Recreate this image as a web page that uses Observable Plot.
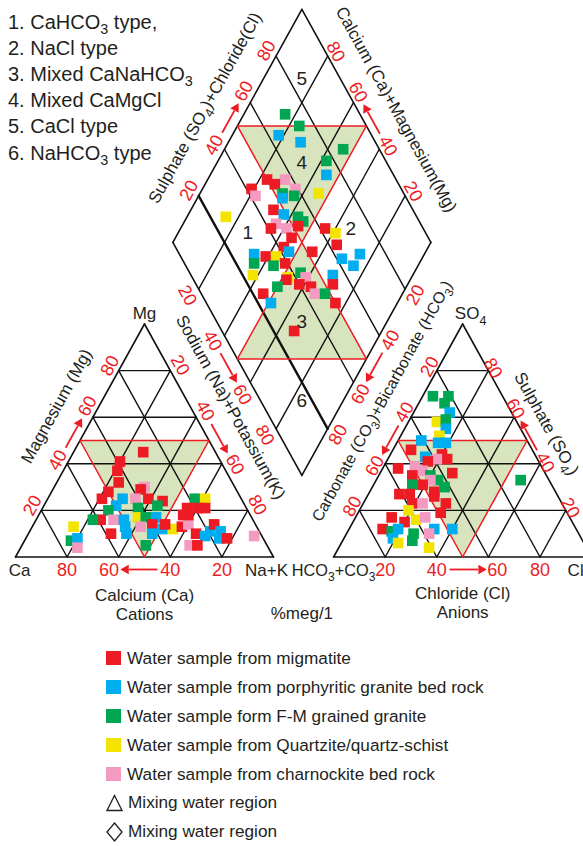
<!DOCTYPE html>
<html>
<head>
<meta charset="utf-8">
<script src="https://cdn.jsdelivr.net/npm/d3@7"></script>
<script src="https://cdn.jsdelivr.net/npm/@observablehq/plot@0.6"></script>
<style>
  body { margin: 0; background: #fff; font-family: "Liberation Sans", Arial, sans-serif; color: #231f20; }
  #wrap { position: relative; width: 583px; height: 846px; overflow: hidden; background: #fff; }
  #chart { position: absolute; left: 0; top: 0; }
  #types { position: absolute; left: 8px; top: 8.6px; font-size: 20px; line-height: 26.2px; white-space: nowrap; }
  #legend { position: absolute; left: 106px; top: 644px; font-size: 17.2px; white-space: nowrap; }
  #legend .row { height: 28.9px; display: flex; align-items: center; }
  #legend .sw { display: inline-block; width: 15px; height: 14px; margin-right: 6px; }
  #legend svg { margin-right: 5px; }
  sub { font-size: 0.72em; vertical-align: -0.32em; line-height: 0; }
</style>
</head>
<body>
<div id="wrap">
  <div id="chart"></div>
  <div id="types"></div>
  <div id="legend"></div>
</div>
<script>
// ---------------------------------------------------------------------------
// Data
// ---------------------------------------------------------------------------
const groupKeys = ["R", "B", "G", "Y", "P"];
const groupColors = ["#ed1c24", "#00aeef", "#00a651", "#f2e400", "#f49ac1"];
const groupLabels = [
  "Water sample from migmatite",
  "Water sample from porphyritic granite bed rock",
  "Water sample form F-M grained granite",
  "Water sample from Quartzite/quartz-schist",
  "Water sample from charnockite bed rock"
];
const regionLegend = ["Mixing water region", "Mixing water region"];

const typeNames = [
  "1. CaHCO₃ type,",
  "2. NaCl type",
  "3. Mixed CaNaHCO₃",
  "4. Mixed CaMgCl",
  "5. CaCl type",
  "6. NaHCO₃ type"
];

// cations, % meq/l
const cationGroup = "RRRRPRRRBBPRRGGGGYRRRRYGBPBRGYBPRBBYRRPRRBBRBBRPRBGBPGPR".split("");
const cationCa  = [28,39,42,44,35,37,50,54,46,50,41,36,31,34,42,54,18,14,23,26,19,16,44,41,37,54,50,59,62,71,51,45,40,42,37,33,35,29,26,24,25,22,19,16,15,17,14,3,58,52,75,72,74,47,30,27];
const cationMg  = [45,41,37,32,30,29,28,25,25,22,25,25,24,22,21,20,25,25,21,18,21,21,17,17,17,16,16,16,16,13,13,13,14,10,12,12,14,13,14,18,10,9,11,14,11,8,8,9,10,10,7,8,4,5,5,5];
const cationNaK = [27,20,21,24,35,34,22,21,29,28,34,39,45,44,37,26,57,61,56,56,60,63,39,42,46,30,34,25,22,16,36,42,46,48,51,55,51,58,60,58,65,69,70,70,74,75,78,88,32,38,18,20,22,48,65,68];

// anions, % meq/l
const anionGroup = "GGGBYGBYBBBRBRRPRPRRPRGGGPGRRRRRRPRRYYPRRRGBBYGGBPBYG".split("");
const anionHCO3 = [27,21,24,24,31,27,29,33,41,35,32,47,43,36,35,39,43,49,56,36,47,52,45,43,42,46,54,50,47,61,57,48,58,54,45,49,61,60,56,69,65,75,72,69,73,72,64,66,55,58,48,61,11];
const anionSO4  = [69,69,66,62,58,59,55,52,50,49,49,46,43,44,42,42,41,39,38,36,37,35,35,33,30,33,31,31,28,27,27,26,23,23,23,19,20,16,17,17,15,12,11,12,8,6,10,7,12,10,12,4,33];
const anionCl   = [4,10,10,14,11,14,16,15,9,16,19,7,14,20,23,19,16,12,6,28,16,13,20,24,28,21,15,19,25,12,16,26,19,23,32,32,19,24,27,14,20,13,17,19,19,22,26,27,33,32,40,35,56];

// central field: Na+K (cations) and SO4+Cl (anions), % meq/l
const fieldGroup = "GGBBGGBYPRRPRPGGBYRBGGPPRRRRYRRBRBRYGGRBBBYGYRPBGRRRPGRBRR".split("");
const fieldNaK   = [16,24,18,28,46,42,45,46,30,23,27,36,19,22,32,37,33,15,32,37,43,46,36,41,35,45,45,56,61,64,44,47,56,34,39,43,36,44,48,69,75,75,38,56,52,52,59,69,50,58,63,71,66,70,46,51,76,66];
const fieldSO4Cl = [71,74,64,71,86,77,74,67,57,50,52,59,42,42,53,57,52,26,46,49,54,55,44,47,41,52,47,62,65,63,42,43,52,29,33,37,27,34,39,62,65,70,24,43,37,36,44,55,31,40,44,53,44,48,24,25,50,28];

// hydrochemical facies numbers inside the diamond: [label, Na+K, SO4+Cl]
const facies = [["1", 27, 31], ["2", 66, 72], ["3", 67, 33], ["4", 33, 67], ["5", 15, 85], ["6", 84, 16]];

const tickValues = [20, 40, 60, 80];
const cornerNames = ["Ca", "Na+K", "Mg", "SO₄", "HCO₃+CO₃", "Cl"];
const axisTitles = {
  mg: "Magnesium (Mg)",
  nak: "Sodium (Na)+Potassium(K)",
  hco3: "Carbonate (CO₃)+Bicarbonate (HCO₃)",
  so4: "Sulphate (SO₄)",
  dSO4Cl: "Sulphate (SO₄)+Chloride(Cl)",
  dCaMg: "Calcium (Ca)+Magnesium(Mg)"
};
const bottomTitles = [["Calcium (Ca)", "Cations"], ["Chloride (Cl)", "Anions"]];
const unitLabel = "%meg/1";

// ---------------------------------------------------------------------------
// Layout (plot units: triangle side = 100)
// ---------------------------------------------------------------------------
const W = 583, H = 630;
const KX = 2.58, KY = 2.33;          // pixels per plot unit
const X_ORIGIN = 15, BASELINE = 556.5;
const C0 = 0, A0 = 123.3, D0 = 111, DY = 35;
const FONT = "Liberation Sans, Arial, sans-serif";
const INK = "#231f20", RED = "#ed1c24", SHADE = "#d8e4bd";

const colorOf = Object.fromEntries(groupKeys.map((k, i) => [k, groupColors[i]]));

// ternary -> plot units
const cat = (mg, nak) => [C0 + nak + mg / 2, mg];
const an  = (so4, cl) => [A0 + cl + so4 / 2, so4];
const dm  = (nak, so4cl) => [D0 - 50 + (nak + so4cl) / 2, DY + 100 + so4cl - nak];

const ANG = Math.atan2(100 * KY, 50 * KX) * 180 / Math.PI;
const sA = Math.sin(ANG * Math.PI / 180), cA = Math.cos(ANG * Math.PI / 180);
const N_UL = [-sA, -cA], N_UR = [sA, -cA], N_DL = [-sA, cA], N_DR = [sA, cA], N_DOWN = [0, 1];
const nudge = ([x, y], n, d) => [x + n[0] * d / KX, y - n[1] * d / KY];

// each side: where a percentage sits, outward direction, label distance (px),
// text angle, label nudges beside the arrow, arrow [tail, shaft end, head]
const SIDE_ARROW = [45, 54.5, 55.6], BASE_ARROW = [45, 56, 57.2];
const axes = {
  ca:     {at: p => cat(0, 100 - p),  n: N_DOWN, d: 13.5, rot: 0,    shift: {60: 3.8},           arrow: BASE_ARROW},
  mg:     {at: p => cat(p, 0),        n: N_UL,   d: 10,   rot: -ANG, shift: {40: -0.5, 60: 2.6}, arrow: SIDE_ARROW},
  nak:    {at: p => cat(100 - p, p),  n: N_UR,   d: 11,   rot: ANG,  shift: {40: -0.5, 60: 2.6}, arrow: SIDE_ARROW},
  cl:     {at: p => an(0, p),         n: N_DOWN, d: 13.5, rot: 0,    shift: {60: 3.4},           arrow: BASE_ARROW},
  hco3:   {at: p => an(100 - p, 0),   n: N_UL,   d: 8,    rot: -ANG, shift: {40: -0.5, 60: 2.6}, arrow: SIDE_ARROW},
  so4:    {at: p => an(p, 100 - p),   n: N_UR,   d: 5,    rot: ANG,  shift: {40: -0.5, 60: 2.6}, arrow: SIDE_ARROW},
  dSO4Cl: {at: p => dm(0, p),         n: N_UL,   d: 11,   rot: -ANG, shift: {40: -0.5, 60: 2.6}, arrow: SIDE_ARROW},
  dCaMg:  {at: p => dm(100 - p, 100), n: N_UR,   d: 9,    rot: ANG,  shift: {40: -0.5, 60: 2.6}, arrow: SIDE_ARROW},
  dNaK:   {at: p => dm(p, 0),         n: N_DL,   d: 13,   rot: ANG,  shift: {40: -0.5, 60: 2.6}, arrow: SIDE_ARROW},
  dHCO3:  {at: p => dm(100, 100 - p), n: N_DR,   d: 12,   rot: -ANG, shift: {40: -0.5, 60: 2.6}, arrow: SIDE_ARROW}
};

// ---------------------------------------------------------------------------
// Geometry built from the ternary values
// ---------------------------------------------------------------------------
const segs = [];      // grid + outlines
const seg = (a, b, w = 1.4) => segs.push({x1: a[0], y1: a[1], x2: b[0], y2: b[1], w});

function triangle(pt) {
  // pt(top, right) for a triangle
  for (const k of tickValues) {
    seg(pt(k, 0), pt(k, 100 - k));
    seg(pt(0, k), pt(100 - k, k));
    seg(pt(0, 100 - k), pt(100 - k, 0));
  }
  seg(pt(0, 0), pt(0, 100), 1.6);
  seg(pt(0, 100), pt(100, 0), 1.6);
  seg(pt(100, 0), pt(0, 0), 1.6);
}
triangle(cat);
triangle(an);
for (const k of tickValues) {
  seg(dm(0, k), dm(100, k), k === 20 ? 2.4 : 1.4);
  seg(dm(k, 0), dm(k, 100));
}
seg(dm(0, 0), dm(0, 100), 1.6);
seg(dm(0, 100), dm(100, 100), 1.6);
seg(dm(100, 100), dm(100, 0), 1.6);
seg(dm(100, 0), dm(0, 0), 1.6);

// mixing regions
const regionPolys = [
  [cat(50, 0), cat(50, 50), cat(0, 50)],
  [an(50, 0), an(50, 50), an(0, 50)],
  [dm(0, 50), dm(50, 100), dm(50, 50)],
  [dm(50, 0), dm(100, 50), dm(50, 50)]
];
const regionPts = regionPolys.flatMap((poly, id) =>
  [...poly, poly[0]].map(([x, y]) => ({id, x, y})));

// samples
const pts = [];
cationGroup.forEach((g, i) => { const [x, y] = cat(cationMg[i], cationNaK[i]); pts.push({g, x, y}); });
anionGroup.forEach((g, i) => { const [x, y] = an(anionSO4[i], anionCl[i]); pts.push({g, x, y}); });
fieldGroup.forEach((g, i) => { const [x, y] = dm(fieldNaK[i], fieldSO4Cl[i]); pts.push({g, x, y}); });

// tick labels and arrows
const tickLabels = [], arrowShafts = [], arrowHeads = [];
for (const key of Object.keys(axes)) {
  const ax = axes[key];
  for (const t of tickValues) {
    const p = t + (ax.shift[t] || 0);
    const [x, y] = nudge(ax.at(p), ax.n, ax.d);
    tickLabels.push({x, y, text: String(t), rotate: ax.rot});
  }
  const [p0, p1, p2] = ax.arrow;
  const a = nudge(ax.at(p0), ax.n, ax.d - 1);
  const b = nudge(ax.at(p1), ax.n, ax.d - 1);
  const h = nudge(ax.at(p2), ax.n, ax.d - 1);
  arrowShafts.push({x1: a[0], y1: a[1], x2: b[0], y2: b[1]});
  const dir = Math.atan2(-(b[1] - a[1]) * KY, (b[0] - a[0]) * KX) * 180 / Math.PI;
  arrowHeads.push({x: h[0], y: h[1], rotate: dir + 90});
}

// axis titles along the sides: [percent along side, distance px, font size]
const titlePlacement = {mg: [57, 37, 17], nak: [43, 35, 17], hco3: [40, 33, 16], so4: [52, 25, 17], dSO4Cl: [50, 37, 17], dCaMg: [50, 34, 17]};
const titles = Object.entries(titlePlacement).map(([key, [p, d, size]]) => {
  const ax = axes[key];
  const [x, y] = nudge(ax.at(p), ax.n, d);
  return {x, y, text: axisTitles[key], rotate: ax.rot, size};
});

// bottom captions
const captions = [
  {pos: cat(0, 50), dy: 39, text: bottomTitles[0][0]},
  {pos: cat(0, 50), dy: 57.5, text: bottomTitles[0][1]},
  {pos: an(0, 50), dy: 37, text: bottomTitles[1][0]},
  {pos: an(0, 50), dy: 55.5, text: bottomTitles[1][1]},
  {pos: [D0, 0], dy: 56.5, text: unitLabel}
].map(d => ({x: d.pos[0], y: d.pos[1] - d.dy / KY, text: d.text}));

// corner labels
const corners = [
  {pos: cat(0, 0), dx: 4, dy: 13.5, anchor: "middle", size: 17},
  {pos: cat(0, 100), dx: -7, dy: 13.5, anchor: "middle", size: 17},
  {pos: cat(100, 0), dx: 0, dy: -10, anchor: "middle", size: 17},
  {pos: an(100, 0), dx: 8, dy: -10, anchor: "middle", size: 17},
  {pos: an(0, 0), dx: 0, dy: 13.5, anchor: "middle", size: 16.3},
  {pos: an(0, 100), dx: -24, dy: 13.5, anchor: "start", size: 17}
].map((c, i) => ({x: c.pos[0] + c.dx / KX, y: c.pos[1] - c.dy / KY, text: cornerNames[i], anchor: c.anchor, size: c.size}));

const faciesLabels = facies.map(([t, a, b]) => { const [x, y] = dm(a, b); return {x, y, text: t}; });

// ---------------------------------------------------------------------------
// Chart
// ---------------------------------------------------------------------------
const chart = Plot.plot({
  width: W,
  height: H,
  margin: 0,
  x: {domain: [-X_ORIGIN / KX, (W - X_ORIGIN) / KX], axis: null},
  y: {domain: [(BASELINE - H) / KY, BASELINE / KY], axis: null},
  style: {fontFamily: FONT, background: "transparent", overflow: "visible"},
  marks: [
    Plot.line(regionPts, {x: "x", y: "y", z: "id", fill: SHADE, stroke: "none", curve: "linear"}),
    Plot.link(segs, {x1: "x1", y1: "y1", x2: "x2", y2: "y2", stroke: "#111", strokeWidth: d => d.w, strokeLinecap: "round"}),
    Plot.line(regionPts, {x: "x", y: "y", z: "id", fill: "none", stroke: RED, strokeWidth: 1.5, strokeLinejoin: "miter"}),
    Plot.dot(pts, {x: "x", y: "y", symbol: "square", r: 6, fill: d => colorOf[d.g], stroke: "none"}),
    Plot.link(arrowShafts, {x1: "x1", y1: "y1", x2: "x2", y2: "y2", stroke: RED, strokeWidth: 1.8}),
    Plot.dot(arrowHeads, {x: "x", y: "y", symbol: "triangle", r: 3.6, rotate: "rotate", fill: RED, stroke: "none"}),
    Plot.text(tickLabels, {x: "x", y: "y", text: "text", rotate: "rotate", fill: RED, fontSize: 18, fontFamily: FONT}),
    ...[16, 17].map(s => Plot.text(titles.filter(t => t.size === s), {x: "x", y: "y", text: "text", rotate: "rotate", fill: INK, fontSize: s, fontFamily: FONT})),
    Plot.text(captions, {x: "x", y: "y", text: "text", fill: INK, fontSize: 17, fontFamily: FONT}),
    ...corners.map(c => Plot.text([c], {x: "x", y: "y", text: "text", textAnchor: c.anchor, fill: INK, fontSize: c.size, fontFamily: FONT})),
    Plot.text(faciesLabels, {x: "x", y: "y", text: "text", fill: INK, fontSize: 19, fontFamily: FONT})
  ]
});
document.getElementById("chart").appendChild(chart);

// chemical subscripts (₃, ₄) drawn as lowered, smaller digits
function subscriptify(root) {
  const NS = "http://www.w3.org/2000/svg";
  root.querySelectorAll("text").forEach(t => {
    const s = t.textContent;
    if (!/[\u2080-\u2089]/.test(s) || t.querySelector("tspan")) return;
    const fs = parseFloat(getComputedStyle(t).fontSize) || 16;
    const shift = fs * 0.3;
    t.textContent = "";
    let lowered = false;
    for (const part of s.match(/[\u2080-\u2089]+|[^\u2080-\u2089]+/g)) {
      const ts = document.createElementNS(NS, "tspan");
      if (/[\u2080-\u2089]/.test(part)) {
        ts.textContent = part.replace(/./g, c => String.fromCharCode(c.charCodeAt(0) - 0x2080 + 48));
        ts.setAttribute("font-size", (fs * 0.74).toFixed(1));
        ts.setAttribute("dy", shift.toFixed(1));
        lowered = true;
      } else {
        ts.textContent = part;
        if (lowered) { ts.setAttribute("dy", (-shift).toFixed(1)); lowered = false; }
      }
      t.appendChild(ts);
    }
  });
}
subscriptify(chart);

// ---------------------------------------------------------------------------
// Facies list and legend
// ---------------------------------------------------------------------------
const withSub = s => s.replace(/[\u2080-\u2089]+/g, m =>
  "<sub>" + m.replace(/./g, c => String.fromCharCode(c.charCodeAt(0) - 0x2080 + 48)) + "</sub>");
document.getElementById("types").innerHTML = typeNames.map(n => `<div>${withSub(n)}</div>`).join("");

const legend = document.getElementById("legend");
legend.innerHTML =
  groupLabels.map((lab, i) =>
    `<div class="row"><span class="sw" style="background:${groupColors[i]}"></span>${lab}</div>`).join("") +
  `<div class="row"><svg width="17" height="18" viewBox="0 0 17 18"><path d="M8.5 1.5 L16 16.5 L1 16.5 Z" fill="none" stroke="${INK}" stroke-width="1.3"/></svg>${regionLegend[0]}</div>` +
  `<div class="row"><svg width="17" height="20" viewBox="0 0 17 20"><path d="M8.5 1 L16 10 L8.5 19 L1 10 Z" fill="none" stroke="${INK}" stroke-width="1.3"/></svg>${regionLegend[1]}</div>`;
</script>
</body>
</html>
